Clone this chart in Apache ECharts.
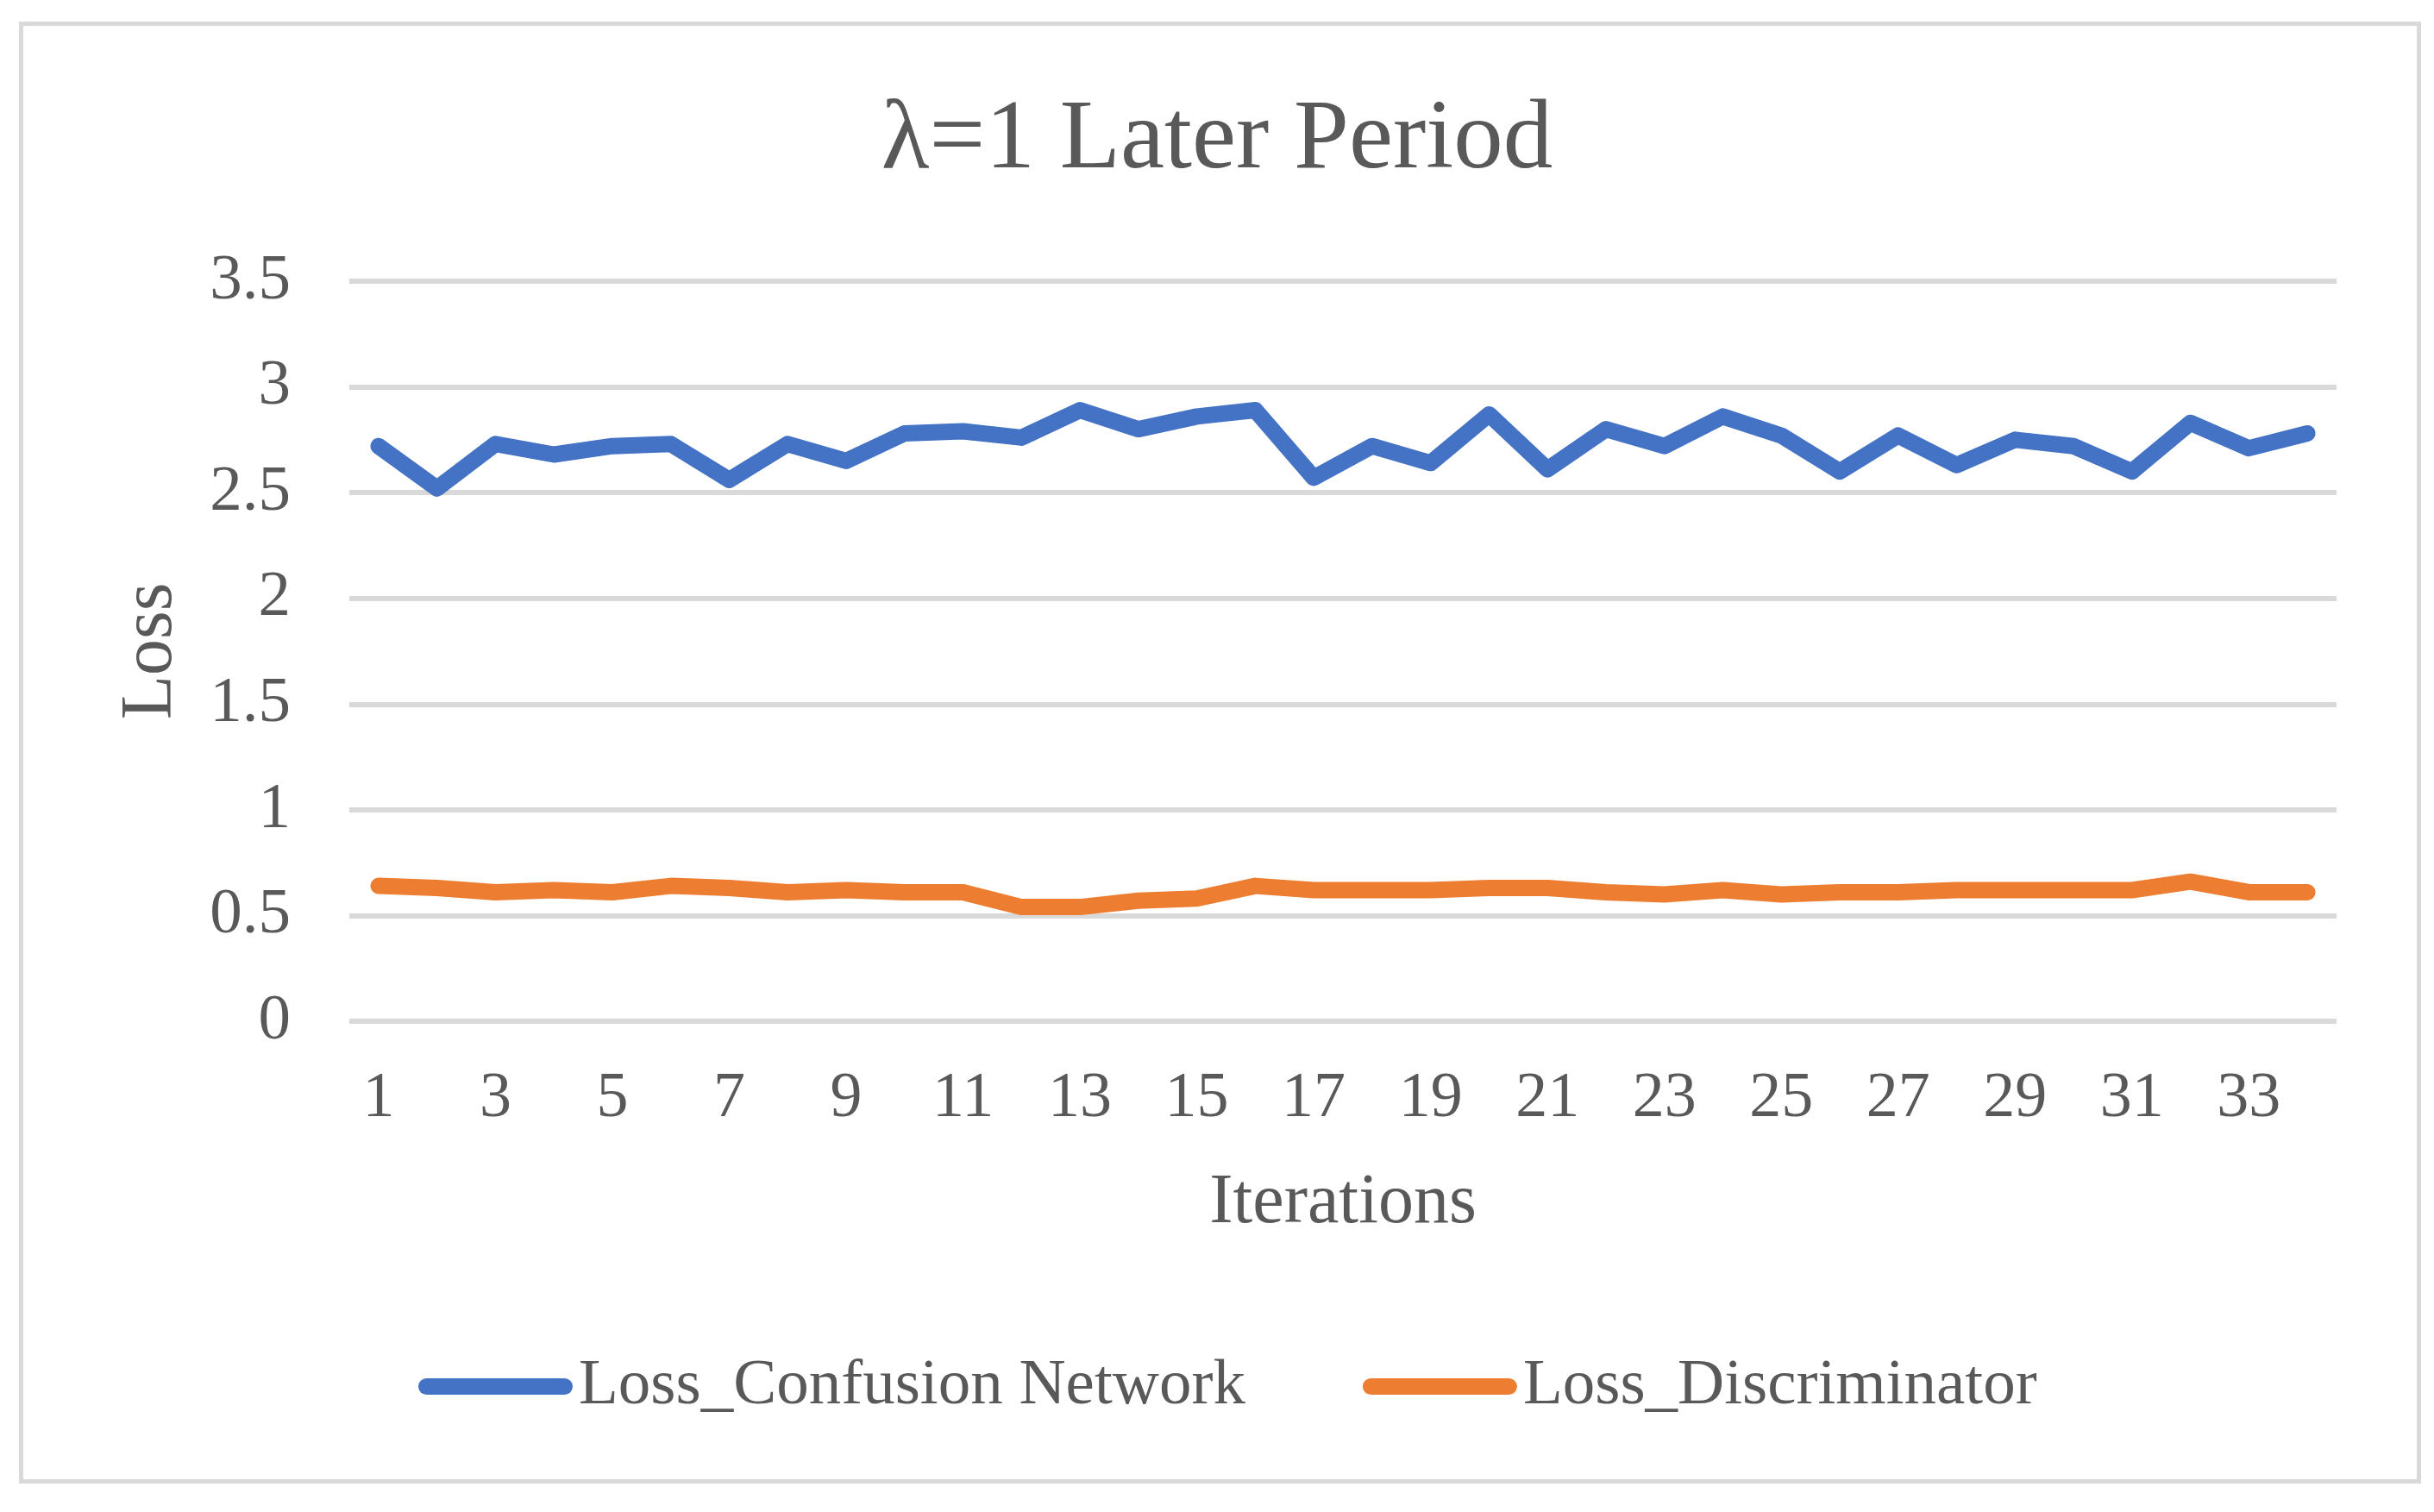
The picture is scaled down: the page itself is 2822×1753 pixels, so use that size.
<!DOCTYPE html>
<html>
<head>
<meta charset="utf-8">
<script src="https://cdn.jsdelivr.net/npm/echarts@6/dist/echarts.min.js"></script>
<style>
html,body{margin:0;padding:0;background:#fff;}
#c{width:2822px;height:1753px;}
</style>
</head>
<body>
<div id="c"></div>
<script>
const titleText = 'λ=1 Later Period';
const iterations = ['1','2','3','4','5','6','7','8','9','10','11','12','13','14','15','16','17','18','19','20','21','22','23','24','25','26','27','28','29','30','31','32','33','34'];
const lossConfusion = [2.72,2.52,2.73,2.68,2.72,2.73,2.56,2.73,2.65,2.78,2.79,2.76,2.89,2.80,2.86,2.89,2.57,2.72,2.64,2.87,2.61,2.80,2.72,2.86,2.77,2.60,2.77,2.63,2.75,2.72,2.60,2.83,2.71,2.78];
const lossDiscriminator = [0.64,0.63,0.61,0.62,0.61,0.64,0.63,0.61,0.62,0.61,0.61,0.54,0.54,0.57,0.58,0.64,0.62,0.62,0.62,0.63,0.63,0.61,0.60,0.62,0.60,0.61,0.61,0.62,0.62,0.62,0.62,0.66,0.61,0.61];
const yTicks = {min:0, max:3.5, interval:0.5};

const FONT = '"Liberation Serif", "Times New Roman", serif';
const TXT = '#595959';
const legendIcon = 'path://M9.5,0 L169.5,0 A9.5,9.5 0 0 1 169.5,19 L9.5,19 A9.5,9.5 0 0 1 9.5,0 Z';

const chart = echarts.init(document.getElementById('c'));
chart.setOption({
  backgroundColor:'#ffffff',
  animation:false,
  graphic:[{
    type:'rect', left:22, top:25,
    shape:{width:2780, height:1690},
    style:{fill:'none', stroke:'#d9d9d9', lineWidth:5}
  }],
  title:{
    text:titleText, left:'center', top:101,
    textStyle:{fontFamily:FONT, fontSize:115, fontWeight:'normal', color:TXT, lineHeight:115}
  },
  legend:{
    data:['Loss_Confusion Network','Loss_Discriminator'],
    top:1565, left:480,
    itemWidth:179, itemHeight:19, itemGap:136,
    icon:legendIcon,
    textStyle:{fontFamily:FONT, fontSize:75, color:TXT, lineHeight:75, padding:[0,0,0,2]}
  },
  grid:{left:405, right:113, top:326, bottom:569, containLabel:false},
  xAxis:{
    type:'category', data:iterations, boundaryGap:true,
    name:'Iterations', nameLocation:'middle', nameGap:170,
    nameTextStyle:{fontFamily:FONT, fontSize:82, color:TXT, lineHeight:82},
    axisLine:{show:false}, axisTick:{show:false},
    axisLabel:{interval:1, margin:54, fontFamily:FONT, fontSize:74, color:TXT, lineHeight:74}
  },
  yAxis:{
    type:'value', min:yTicks.min, max:yTicks.max, interval:yTicks.interval,
    name:'Loss', nameLocation:'middle', nameGap:187, nameRotate:90,
    nameTextStyle:{fontFamily:FONT, fontSize:84, color:TXT, lineHeight:84},
    axisLine:{show:false}, axisTick:{show:false},
    axisLabel:{margin:68, fontFamily:FONT, fontSize:75, color:TXT},
    splitLine:{lineStyle:{color:'#d9d9d9', width:6}}
  },
  series:[
    {name:'Loss_Confusion Network', type:'line', data:lossConfusion, showSymbol:false, symbol:'none',
     lineStyle:{color:'#4472C4', width:19, cap:'round', join:'round'}, itemStyle:{color:'#4472C4'}},
    {name:'Loss_Discriminator', type:'line', data:lossDiscriminator, showSymbol:false, symbol:'none',
     lineStyle:{color:'#ED7D31', width:19, cap:'round', join:'round'}, itemStyle:{color:'#ED7D31'}}
  ]
});
</script>
</body>
</html>
